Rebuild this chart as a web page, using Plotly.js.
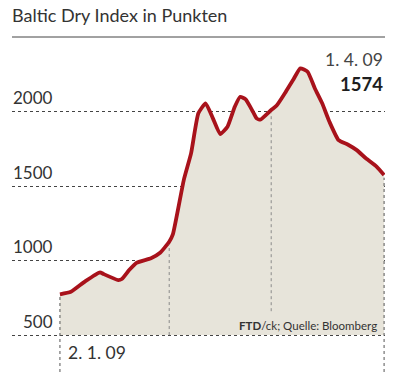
<!DOCTYPE html>
<html><head><meta charset="utf-8">
<script src="https://cdn.plot.ly/plotly-3.0.1.min.js"></script>
<style>html,body{margin:0;padding:0;background:#fff}#c{width:400px;height:379px}</style>
</head><body><div id="c"></div>
<script>
var dates = ['2009-01-02','2009-01-05','2009-01-09','2009-01-13','2009-01-14','2009-01-18','2009-01-19','2009-01-21','2009-01-23','2009-01-27','2009-01-29 12:00','2009-02-01','2009-02-02','2009-02-05','2009-02-07','2009-02-09','2009-02-11','2009-02-13','2009-02-15','2009-02-17','2009-02-19','2009-02-20 12:00','2009-02-22','2009-02-24','2009-02-25','2009-02-26','2009-03-01','2009-03-02 12:00','2009-03-05','2009-03-07','2009-03-09','2009-03-11','2009-03-13','2009-03-15','2009-03-17','2009-03-19 12:00','2009-03-22','2009-03-24 12:00','2009-03-27','2009-03-30','2009-04-01'];
var bdi = [773,790,862,921,909,869,876,936,985,1015,1052,1126,1175,1540,1719,1988,2055,1954,1849,1898,2032,2099,2081,1998,1954,1945,2010,2040,2132,2211,2290,2267,2155,2055,1931,1808,1779,1741,1686,1629,1574];
var yTicks = [500,1000,1500,2000];
var yTickLabels = ['500','1000','1500','2000'];
var monthMarks = ['2009-01-02','2009-02-01','2009-03-01','2009-04-01'];
var baseValue = 500;

var lineColor = '#a8121b', fillColor = '#e7e4da';
var font = 'Lato, "Open Sans", sans-serif';

var traces = [
  {x: dates, y: dates.map(function(){return baseValue;}), mode:'lines', line:{width:0, color:'rgba(0,0,0,0)'}, hoverinfo:'skip', showlegend:false},
  {x: dates, y: bdi, mode:'lines', fill:'tonexty', fillcolor: fillColor, line:{color: lineColor, width:3.8, shape:'spline', smoothing:0.45}, showlegend:false}
];

var shapes = [];
monthMarks.forEach(function(d, i){
  var idx = dates.indexOf(d);
  var v = bdi[idx];
  var outer = (i === 0 || i === monthMarks.length-1);
  var bottom = outer ? 252 : (i === 1 ? baseValue : 660);
  shapes.push({type:'line', xref:'x', yref:'y', x0:d, x1:d, y0:bottom, y1:v - 18,
    line:{color: outer ? '#555' : '#8a8a8a', width:1, dash:'dot'}, layer:'above'});
});
shapes.push({type:'line', xref:'paper', yref:'paper', x0:0, x1:1, y0:1.009, y1:1.009, line:{color:'#444', width:1}});

var annotations = [];
yTicks.forEach(function(v, i){
  annotations.push({xref:'paper', yref:'y', x:0.1153, y:v, xanchor:'right', yanchor:'middle', yshift:14,
    text: yTickLabels[i], showarrow:false, font:{family:font, size:17, color:'#333'}});
});
annotations.push({xref:'paper', yref:'paper', x:0, y:1.0738, xanchor:'left', yanchor:'middle', xshift:-2,
  text:'Baltic Dry Index in Punkten', showarrow:false, font:{family:font, size:18, color:'#333'}});
annotations.push({xref:'paper', yref:'paper', x:1, y:0.9413, xanchor:'right', yanchor:'middle',
  text:'1. 4. 09', showarrow:false, font:{family:font, size:17.5, color:'#444'}});
annotations.push({xref:'paper', yref:'paper', x:1, y:0.866, xanchor:'right', yanchor:'middle',
  text:'<b>1574</b>', showarrow:false, font:{family:font, size:18.5, color:'#1e1e1e'}});
annotations.push({xref:'paper', yref:'paper', x:0.1448, y:0.0602, xanchor:'left', yanchor:'middle',
  text:'2. 1. 09', showarrow:false, font:{family:font, size:17.5, color:'#333'}});
annotations.push({xref:'paper', yref:'paper', x:0.984, y:0.1386, xanchor:'right', yanchor:'middle',
  text:'<b>FTD</b>/ck; Quelle: Bloomberg', showarrow:false, font:{family:font, size:11.5, color:'#333'}});

var layout = {
  width:400, height:379,
  margin:{l:12, r:15, t:40, b:7},
  paper_bgcolor:'#fff', plot_bgcolor:'rgba(0,0,0,0)',
  xaxis:{type:'date', range:['2008-12-19 20:00','2009-04-01 06:00'], showgrid:false, zeroline:false, showticklabels:false, ticks:'', showline:false, fixedrange:true},
  yaxis:{range:[252,2480], tickvals:yTicks, showticklabels:false, ticks:'', showgrid:true, gridcolor:'#444', griddash:'dot', gridwidth:1, zeroline:false, showline:false, fixedrange:true, layer:'above traces'},
  shapes: shapes,
  annotations: annotations,
  showlegend:false
};
Plotly.newPlot('c', traces, layout, {displayModeBar:false, staticPlot:true});
</script></body></html>
